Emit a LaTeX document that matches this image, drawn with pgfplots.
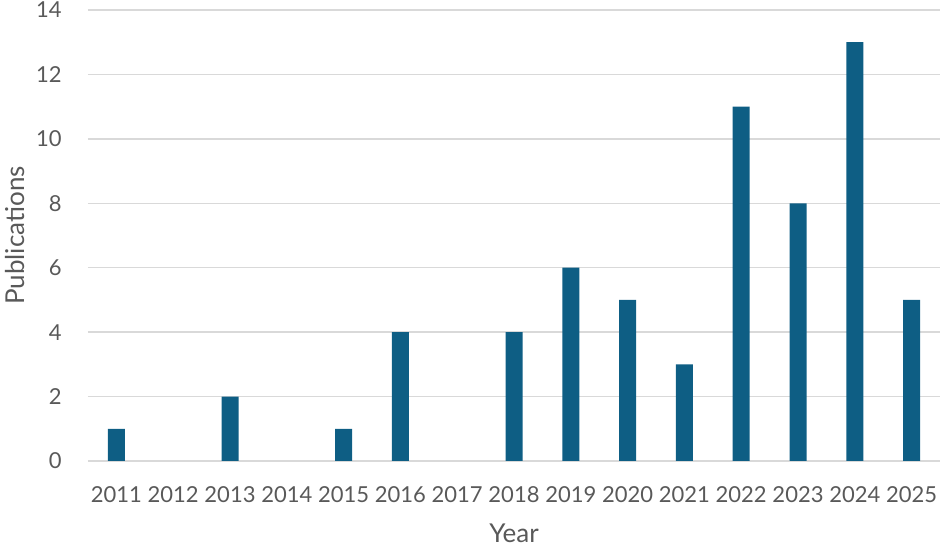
\documentclass[border=0pt]{standalone}
\usepackage{fontspec}
\setmainfont{Lato}
\usepackage{pgfplots}
\pgfplotsset{compat=1.18}
\definecolor{barc}{HTML}{0E5E84}
\definecolor{gridc}{HTML}{D9D9D9}
\definecolor{txt}{HTML}{595959}
\begin{document}
\begin{tikzpicture}
\begin{axis}[
  name=ax,
  scale only axis,
  width=426pt, height=225.5pt,
  xmin=-0.5, xmax=14.5, ymin=0, ymax=14,
  ytick={0,2,...,14},
  xtick={0,...,14},
  xticklabels={2011,2012,2013,2014,2015,2016,2017,2018,2019,2020,2021,2022,2023,2024,2025},
  axis line style={draw=none},
  major tick length=0pt,
  ymajorgrids, grid style={gridc, line width=0.75pt},
  tick label style={font=\fontsize{11}{13}\selectfont, text=txt},
  /pgf/number format/assume math mode=true,
  yticklabel style={inner sep=0pt, xshift=-13pt},
  xticklabel style={inner sep=0pt, yshift=-12.5pt},
  xlabel={Year}, ylabel={Publications},
  label style={font=\fontsize{13}{15}\selectfont, text=txt},
  xlabel style={at={(axis description cs:0.5,-0.161)}, anchor=center},
  ylabel style={at={(axis description cs:-0.0857,0.5)}, anchor=center},
  clip=false,
]
\addplot[ybar, bar width=8.5pt, fill=barc, draw=none] coordinates {
(0,1) (2,2) (4,1) (5,4) (7,4) (8,6) (9,5) (10,3) (11,11) (12,8) (13,13) (14,5)};
\end{axis}
\pgfresetboundingbox
\path ([xshift=-44pt,yshift=-43.5pt]ax.south west) rectangle ([xshift=2.5pt,yshift=5pt]ax.north east);
\end{tikzpicture}
\end{document}
